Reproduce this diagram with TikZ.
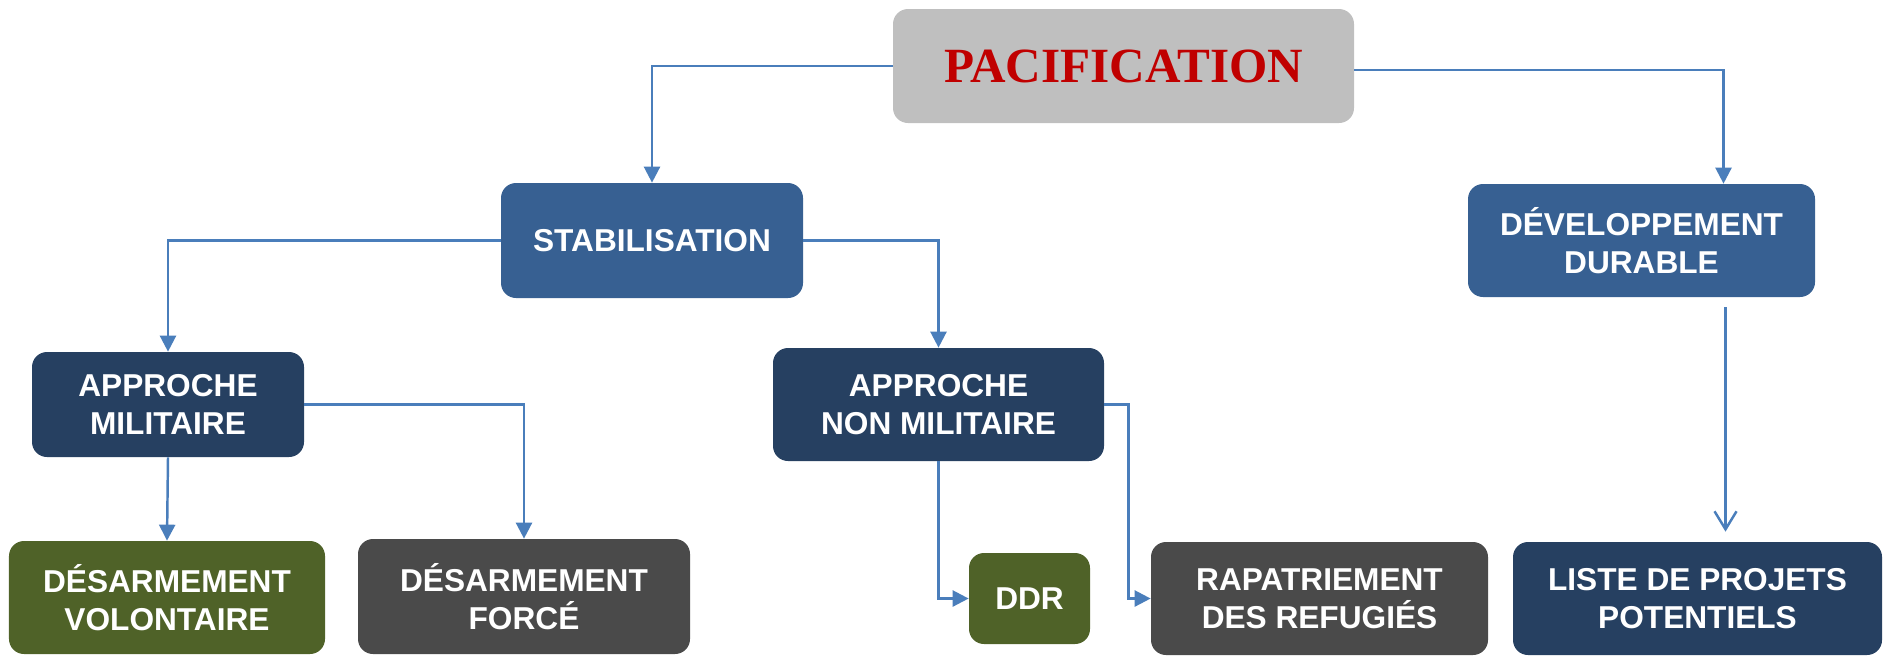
\documentclass[tikz,border=0pt]{standalone}
\usepackage{fontspec}
\setmainfont{Liberation Sans}
\newfontfamily\titlefont{Liberation Serif}
\usetikzlibrary{arrows.meta}
\definecolor{pacgray}{HTML}{BFBFBF}
\definecolor{pacred}{HTML}{C00000}
\definecolor{midblue}{HTML}{376092}
\definecolor{navyblue}{HTML}{264061}
\definecolor{olivegreen}{HTML}{4F6228}
\definecolor{darkgrey}{HTML}{4A4A4A}
\definecolor{linkblue}{HTML}{4A7EBB}
\tikzset{
	box/.style={rounded corners=0.3cm, align=center, text=white, inner sep=0pt,
		font=\bfseries\fontsize{18}{21.5}\selectfont},
	link/.style={draw=linkblue, line width=1.4pt, -{Triangle[length=0.32cm,width=0.32cm]}},
	openlink/.style={draw=linkblue, line width=1.4pt, -{Straight Barb[length=0.36cm,width=0.44cm]}}
}

\begin{document}
\begin{tikzpicture}
			%%%%% START %%%%%
			
			\useasboundingbox (0, 0) rectangle (37.68, -13.12);
			
			\node[box, fill=pacgray, minimum width=9.22cm, minimum height=2.28cm, text=pacred,
				font=\titlefont\bfseries\fontsize{28}{32}\selectfont] (pac) at (22.47, -1.32) {PACIFICATION};
			
			\node[box, fill=midblue, minimum width=6.04cm, minimum height=2.3cm] (stab) at (13.04, -4.81) {STABILISATION};
			\node[box, fill=midblue, minimum width=6.94cm, minimum height=2.26cm] (dev) at (32.83, -4.81) {DÉVELOPPEMENT\\DURABLE};
			
			\node[box, fill=navyblue, minimum width=5.44cm, minimum height=2.1cm] (am) at (3.36, -8.09) {APPROCHE\\MILITAIRE};
			\node[box, fill=navyblue, minimum width=6.62cm, minimum height=2.26cm] (anm) at (18.77, -8.09) {APPROCHE\\NON MILITAIRE};
			
			\node[box, fill=olivegreen, minimum width=6.32cm, minimum height=2.26cm] (dvol) at (3.34, -11.95) {DÉSARMEMENT\\VOLONTAIRE};
			\node[box, fill=darkgrey, minimum width=6.64cm, minimum height=2.3cm] (dforce) at (10.48, -11.93) {DÉSARMEMENT\\FORCÉ};
			\node[box, fill=olivegreen, minimum width=2.42cm, minimum height=1.82cm] (ddr) at (20.59, -11.97) {DDR};
			\node[box, fill=darkgrey, minimum width=6.74cm, minimum height=2.26cm] (rap) at (26.39, -11.97) {RAPATRIEMENT\\DES REFUGIÉS};
			\node[box, fill=navyblue, minimum width=7.38cm, minimum height=2.26cm] (lpp) at (33.95, -11.97) {LISTE DE PROJETS\\POTENTIELS};
			
			\draw[link] (pac.west) -| (stab.north);
			\draw[link] ([yshift=-0.08cm]pac.east) -| ([xshift=1.64cm]dev.north);
			
			\draw[link] (stab.west) -| (am.north);
			\draw[link] (stab.east) -| (anm.north);
			
			\draw[link] (am.south) -- (dvol.north);
			\draw[link] (am.east) -| (dforce.north);
			
			\draw[link] (anm.south) |- (ddr.west);
			\draw[link] (anm.east) -- ++(0.48, 0) |- (rap.west);
			
			\coordinate (devout) at ([xshift=1.68cm, yshift=-0.2cm]dev.south);
			\draw[openlink, shorten >=0.2cm] (devout) -- (devout |- lpp.north);
			
			%%%%% END %%%%%
		\end{tikzpicture}
\end{document}
